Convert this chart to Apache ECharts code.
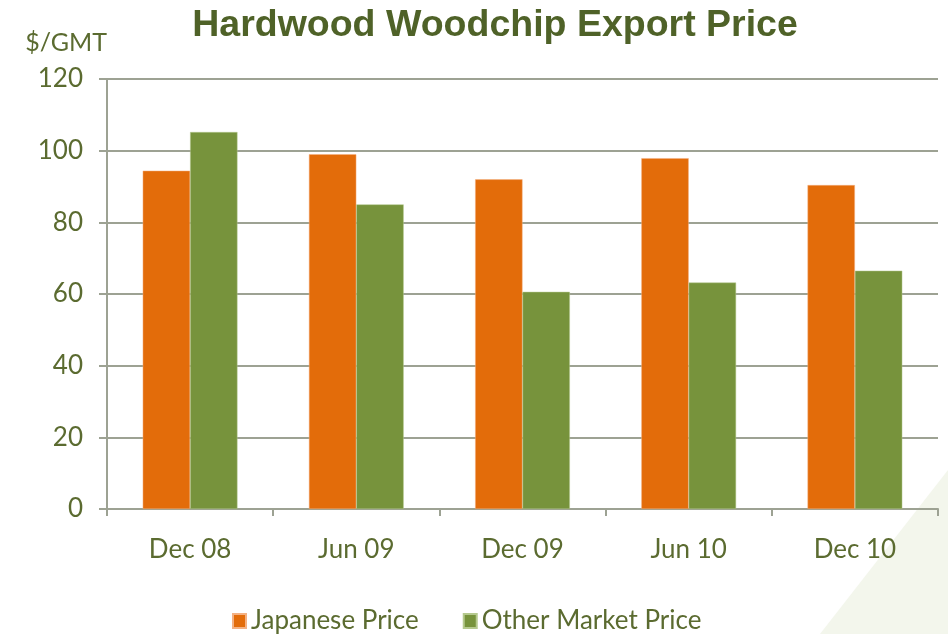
<!DOCTYPE html>
<html>
<head>
<meta charset="utf-8">
<script src="https://cdn.jsdelivr.net/npm/echarts@6/dist/echarts.min.js"></script>
<style>
  html, body { margin: 0; padding: 0; background: #fff; }
  #chart { width: 948px; height: 634px; }
</style>
</head>
<body>
<div id="chart"></div>
<script>
// periods on the x axis
const periods = ['Dec 08', 'Jun 09', 'Dec 09', 'Jun 10', 'Dec 10'];
// $/GMT
const japanesePrice = [94.4, 99.0, 92.0, 97.9, 90.4];
const otherMarketPrice = [105.2, 85.0, 60.6, 63.2, 66.5];
const seriesNames = ['Japanese Price', 'Other Market Price'];

const textColor = '#5B6B30';
const gridColor = '#9DA293';

const chart = echarts.init(document.getElementById('chart'), null, { renderer: 'canvas' });

const option = {
  backgroundColor: '#fff',
  animation: false,
  textStyle: { fontFamily: 'Lato' },
  graphic: [
    {
      // faint decorative shape in the bottom right corner
      type: 'polygon',
      z: -10,
      shape: { points: [[948, 470], [948, 634], [820, 634]] },
      style: { fill: '#F3F6EC' }
    }
  ],
  title: {
    text: 'Hardwood Woodchip Export Price',
    left: 490,
    textAlign: 'center',
    top: 2,
    textStyle: { color: '#4F6228', fontSize: 37.5, fontWeight: 'bold', fontFamily: 'Liberation Sans' }
  },
  legend: {
    top: 603,
    left: 227,
    itemWidth: 13,
    itemHeight: 14,
    itemGap: 44,
    icon: 'rect',
    textStyle: { color: textColor, fontSize: 26, fontFamily: 'Lato' },
    data: seriesNames
  },
  grid: { left: 107, right: 10, top: 79, bottom: 125 },
  xAxis: {
    type: 'category',
    data: periods,
    axisLine: { lineStyle: { color: gridColor, width: 2 } },
    axisTick: { show: true, length: 7, lineStyle: { color: gridColor, width: 2 } },
    axisLabel: { color: textColor, fontSize: 26, margin: 28 }
  },
  yAxis: {
    type: 'value',
    min: 0,
    max: 120,
    interval: 20,
    name: '$/GMT',
    nameLocation: 'end',
    nameGap: 24,
    nameTextStyle: { color: textColor, fontSize: 25, align: 'right' },
    axisLine: { show: true, lineStyle: { color: gridColor, width: 2 } },
    axisTick: { show: true, length: 8, lineStyle: { color: gridColor, width: 2 } },
    axisLabel: { color: textColor, fontSize: 26, margin: 24 },
    splitLine: { lineStyle: { color: gridColor, width: 2 } }
  },
  series: [
    {
      name: seriesNames[0],
      type: 'bar',
      data: japanesePrice,
      barWidth: '28.5%',
      barGap: '0%',
      itemStyle: { color: '#E36C0A', borderColor: '#F4B183', borderWidth: 0.5 }
    },
    {
      name: seriesNames[1],
      type: 'bar',
      data: otherMarketPrice,
      barWidth: '28.5%',
      itemStyle: { color: '#77933C', borderColor: '#B5C98E', borderWidth: 0.5 }
    }
  ]
};

chart.setOption(option);
</script>
</body>
</html>
